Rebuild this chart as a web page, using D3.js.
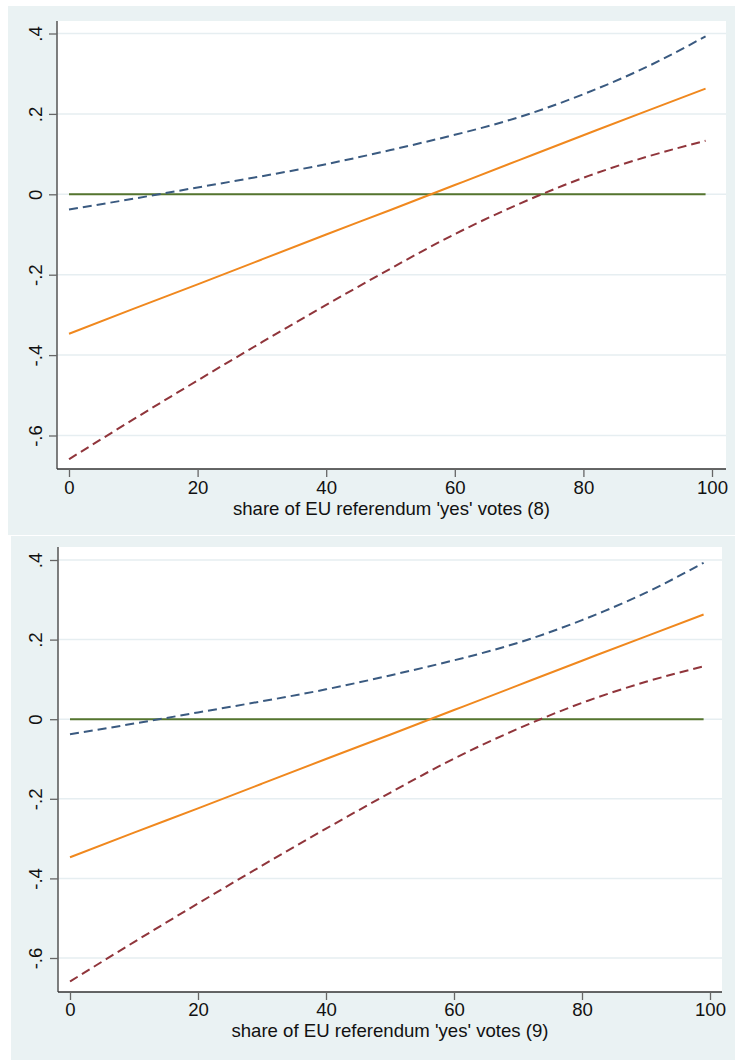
<!DOCTYPE html>
<html><head><meta charset="utf-8">
<script src="https://cdn.jsdelivr.net/npm/d3@7"></script>
<style>
html,body{margin:0;padding:0;background:#fff;}
svg{display:block;font-family:"Liberation Sans",Arial,sans-serif;}
</style></head>
<body>
<svg id="chart" width="735" height="1061"></svg>
<script>
// ---- data ----
const xValues      = [0, 10, 20, 30, 40, 50, 60, 70, 80, 90, 99];
const estimate     = [-0.347, -0.285, -0.224, -0.162, -0.100, -0.039, 0.023, 0.085, 0.147, 0.208, 0.263];
const upperCI      = [-0.038, -0.011, 0.017, 0.045, 0.075, 0.110, 0.148, 0.192, 0.249, 0.318, 0.393];
const lowerCI      = [-0.659, -0.560, -0.463, -0.368, -0.275, -0.185, -0.099, -0.024, 0.041, 0.094, 0.133];
const zeroLine     = [0, 0, 0, 0, 0, 0, 0, 0, 0, 0, 0];
const xTicks       = [0, 20, 40, 60, 80, 100];
const yTicks       = [-0.6, -0.4, -0.2, 0, 0.2, 0.4];
const yTickLabels  = ["-.6", "-.4", "-.2", "0", ".2", ".4"];
const panelTitles  = ["share of EU referendum 'yes' votes (8)", "share of EU referendum 'yes' votes (9)"];

// ---- layout ----
const panels = [
  {bg:[8,6,735,535], plot:[57,21,726,469], x0:69, x100:712, yTop:33.5, yBot:435.5, tickBase:494, titleBase:515},
  {bg:[11,536,735,1060], plot:[58,547,722,992], x0:70, x100:710, yTop:560, yBot:958, tickBase:1016, titleBase:1037}
];
const colors = {bg:"#eaf2f3", grid:"#e6eef1", navy:"#3a5a80", maroon:"#90353b", green:"#55752f", orange:"#f0881e"};
const FS = 18.6;

const svg = d3.select("#chart");

panels.forEach((p, i) => {
  const g = svg.append("g");
  g.append("rect").attr("x", p.bg[0]).attr("y", p.bg[1])
    .attr("width", p.bg[2]-p.bg[0]).attr("height", p.bg[3]-p.bg[1]).attr("fill", colors.bg);
  g.append("rect").attr("x", p.plot[0]).attr("y", p.plot[1])
    .attr("width", p.plot[2]-p.plot[0]).attr("height", p.plot[3]-p.plot[1]).attr("fill", "#fff");

  const x = d3.scaleLinear().domain([0, 100]).range([p.x0, p.x100]);
  const y = d3.scaleLinear().domain([-0.6, 0.4]).range([p.yBot, p.yTop]);

  // gridlines
  g.selectAll(".grid").data(yTicks).enter().append("line")
    .attr("x1", p.plot[0]).attr("x2", p.plot[2])
    .attr("y1", d => y(d)).attr("y2", d => y(d))
    .attr("stroke", colors.grid).attr("stroke-width", 1.5);

  // y axis
  const yAxis = d3.axisLeft(y).tickValues(yTicks).tickSize(8).tickPadding(0)
    .tickFormat((d, k) => yTickLabels[k]);
  const ya = g.append("g").attr("transform", `translate(${p.plot[0]},0)`).call(yAxis);
  ya.select(".domain").attr("d", `M0,${p.plot[1]}V${p.plot[3]}`).attr("stroke", "#555").attr("stroke-width", 1.5);
  ya.selectAll(".tick line").attr("stroke", "#666").attr("stroke-width", 1.3);
  ya.selectAll(".tick text")
    .attr("x", 0).attr("dy", null)
    .attr("transform", `translate(${35 - p.plot[0] + 6.5},0) rotate(-90)`)
    .attr("text-anchor", "middle").attr("dominant-baseline", "auto")
    .attr("font-size", FS).attr("fill", "#111")
    .attr("font-family", "Liberation Sans, Arial, sans-serif");

  // x axis
  const xAxis = d3.axisBottom(x).tickValues(xTicks).tickSize(8).tickPadding(0).tickFormat(d3.format("d"));
  const xa = g.append("g").attr("transform", `translate(0,${p.plot[3]})`).call(xAxis);
  xa.select(".domain").attr("d", `M${p.plot[0]},0H${p.plot[2]}`).attr("stroke", "#333").attr("stroke-width", 1.5);
  xa.selectAll(".tick line").attr("stroke", "#666").attr("stroke-width", 1.3);
  xa.selectAll(".tick text").attr("y", p.tickBase - p.plot[3]).attr("dy", null)
    .attr("font-size", FS).attr("fill", "#111")
    .attr("font-family", "Liberation Sans, Arial, sans-serif");

  // title
  g.append("text").attr("x", (p.plot[0]+p.plot[2])/2).attr("y", p.titleBase)
    .attr("text-anchor", "middle").attr("font-size", FS).attr("fill", "#111")
    .text(panelTitles[i]);

  const line = d3.line().x((d, k) => x(xValues[k])).y(d => y(d)).curve(d3.curveNatural);
  const series = [
    {v: zeroLine, c: colors.green, dash: null},
    {v: upperCI, c: colors.navy, dash: "9,5"},
    {v: lowerCI, c: colors.maroon, dash: "9,5"},
    {v: estimate, c: colors.orange, dash: null}
  ];
  series.forEach(s => {
    g.append("path").attr("d", line(s.v)).attr("fill", "none")
      .attr("stroke", s.c).attr("stroke-width", 2)
      .attr("stroke-dasharray", s.dash);
  });
});
</script>
</body></html>
